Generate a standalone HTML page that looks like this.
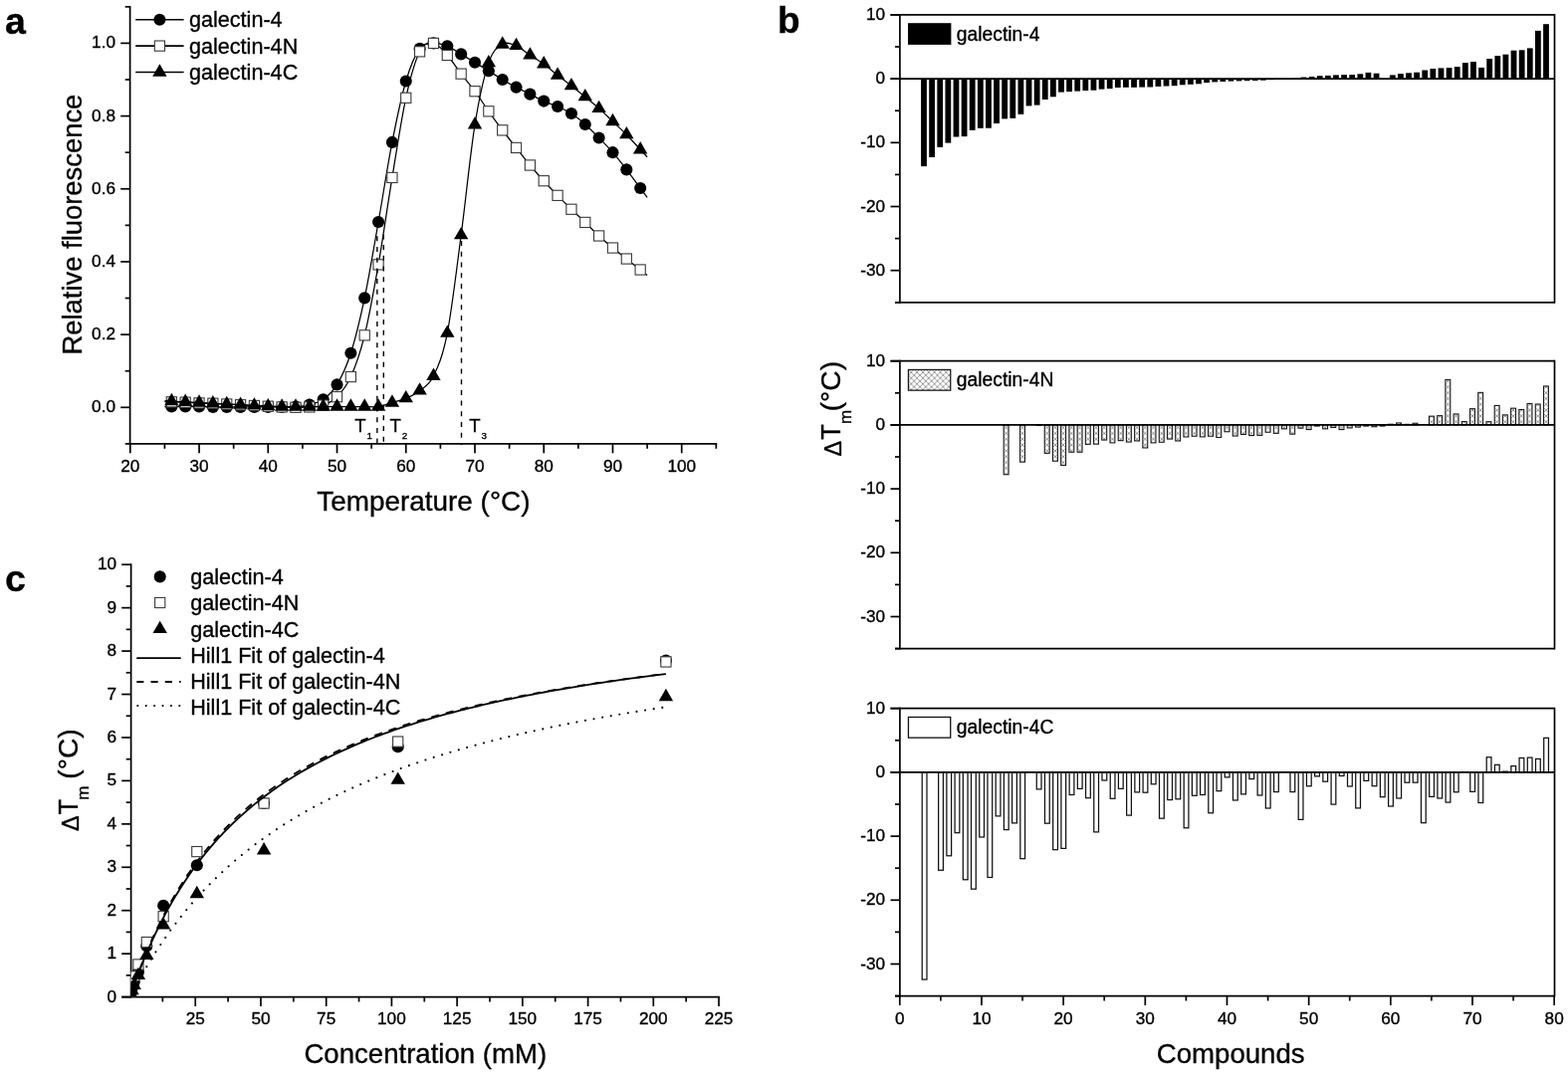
<!DOCTYPE html>
<html lang="en">
<head>
<meta charset="utf-8">
<title>Galectin-4 thermal shift figure</title>
<style>
html,body{margin:0;padding:0;background:#fff;}
body{width:1575px;height:1080px;overflow:hidden;}
svg{display:block;}
text{white-space:pre;}
</style>
</head>
<body>
<svg width="1575" height="1080" viewBox="0 0 1575 1080" font-family='"Liberation Sans", sans-serif' fill="#000">
<style>text{stroke:#000;stroke-width:0.35px;stroke-linejoin:round;}</style>
<defs>
<pattern id="hatch" width="5.83" height="5.83" patternUnits="userSpaceOnUse"><rect width="5.83" height="5.83" fill="#fff"/><path d="M-1,-1 L6.83,6.83 M-1,6.83 L6.83,-1" stroke="#777" stroke-width="0.75" fill="none"/></pattern>
<clipPath id="clipc"><rect x="131.6" y="540" width="620" height="461.6"/></clipPath>
</defs>
<rect width="1575" height="1080" fill="#fff"/>
<g id="panel-a">
<text x="5.10" y="33.80" font-size="37.5" text-anchor="start" font-weight="bold" >a</text>
<line x1="130.60" y1="5.96" x2="130.60" y2="446.74" stroke="#000" stroke-width="1.7" />
<line x1="130.60" y1="445.89" x2="720.19" y2="445.89" stroke="#000" stroke-width="1.7" />
<line x1="125.70" y1="445.89" x2="130.60" y2="445.89" stroke="#000" stroke-width="1.7" />
<line x1="121.20" y1="409.30" x2="130.60" y2="409.30" stroke="#000" stroke-width="1.7" />
<text x="116.00" y="414.30" font-size="17.2" text-anchor="end" font-weight="normal" >0.0</text>
<line x1="125.70" y1="372.71" x2="130.60" y2="372.71" stroke="#000" stroke-width="1.7" />
<line x1="121.20" y1="336.12" x2="130.60" y2="336.12" stroke="#000" stroke-width="1.7" />
<text x="116.00" y="341.12" font-size="17.2" text-anchor="end" font-weight="normal" >0.2</text>
<line x1="125.70" y1="299.53" x2="130.60" y2="299.53" stroke="#000" stroke-width="1.7" />
<line x1="121.20" y1="262.94" x2="130.60" y2="262.94" stroke="#000" stroke-width="1.7" />
<text x="116.00" y="267.94" font-size="17.2" text-anchor="end" font-weight="normal" >0.4</text>
<line x1="125.70" y1="226.35" x2="130.60" y2="226.35" stroke="#000" stroke-width="1.7" />
<line x1="121.20" y1="189.76" x2="130.60" y2="189.76" stroke="#000" stroke-width="1.7" />
<text x="116.00" y="194.76" font-size="17.2" text-anchor="end" font-weight="normal" >0.6</text>
<line x1="125.70" y1="153.17" x2="130.60" y2="153.17" stroke="#000" stroke-width="1.7" />
<line x1="121.20" y1="116.58" x2="130.60" y2="116.58" stroke="#000" stroke-width="1.7" />
<text x="116.00" y="121.58" font-size="17.2" text-anchor="end" font-weight="normal" >0.8</text>
<line x1="125.70" y1="79.99" x2="130.60" y2="79.99" stroke="#000" stroke-width="1.7" />
<line x1="121.20" y1="43.40" x2="130.60" y2="43.40" stroke="#000" stroke-width="1.7" />
<text x="116.00" y="48.40" font-size="17.2" text-anchor="end" font-weight="normal" >1.0</text>
<line x1="125.70" y1="6.81" x2="130.60" y2="6.81" stroke="#000" stroke-width="1.7" />
<line x1="130.80" y1="445.89" x2="130.80" y2="455.29" stroke="#000" stroke-width="1.7" />
<text x="130.80" y="474.10" font-size="17.2" text-anchor="middle" font-weight="normal" >20</text>
<line x1="165.42" y1="445.89" x2="165.42" y2="450.79" stroke="#000" stroke-width="1.7" />
<line x1="200.04" y1="445.89" x2="200.04" y2="455.29" stroke="#000" stroke-width="1.7" />
<text x="200.04" y="474.10" font-size="17.2" text-anchor="middle" font-weight="normal" >30</text>
<line x1="234.66" y1="445.89" x2="234.66" y2="450.79" stroke="#000" stroke-width="1.7" />
<line x1="269.28" y1="445.89" x2="269.28" y2="455.29" stroke="#000" stroke-width="1.7" />
<text x="269.28" y="474.10" font-size="17.2" text-anchor="middle" font-weight="normal" >40</text>
<line x1="303.90" y1="445.89" x2="303.90" y2="450.79" stroke="#000" stroke-width="1.7" />
<line x1="338.52" y1="445.89" x2="338.52" y2="455.29" stroke="#000" stroke-width="1.7" />
<text x="338.52" y="474.10" font-size="17.2" text-anchor="middle" font-weight="normal" >50</text>
<line x1="373.14" y1="445.89" x2="373.14" y2="450.79" stroke="#000" stroke-width="1.7" />
<line x1="407.76" y1="445.89" x2="407.76" y2="455.29" stroke="#000" stroke-width="1.7" />
<text x="407.76" y="474.10" font-size="17.2" text-anchor="middle" font-weight="normal" >60</text>
<line x1="442.38" y1="445.89" x2="442.38" y2="450.79" stroke="#000" stroke-width="1.7" />
<line x1="477.00" y1="445.89" x2="477.00" y2="455.29" stroke="#000" stroke-width="1.7" />
<text x="477.00" y="474.10" font-size="17.2" text-anchor="middle" font-weight="normal" >70</text>
<line x1="511.62" y1="445.89" x2="511.62" y2="450.79" stroke="#000" stroke-width="1.7" />
<line x1="546.24" y1="445.89" x2="546.24" y2="455.29" stroke="#000" stroke-width="1.7" />
<text x="546.24" y="474.10" font-size="17.2" text-anchor="middle" font-weight="normal" >80</text>
<line x1="580.86" y1="445.89" x2="580.86" y2="450.79" stroke="#000" stroke-width="1.7" />
<line x1="615.48" y1="445.89" x2="615.48" y2="455.29" stroke="#000" stroke-width="1.7" />
<text x="615.48" y="474.10" font-size="17.2" text-anchor="middle" font-weight="normal" >90</text>
<line x1="650.10" y1="445.89" x2="650.10" y2="450.79" stroke="#000" stroke-width="1.7" />
<line x1="684.72" y1="445.89" x2="684.72" y2="455.29" stroke="#000" stroke-width="1.7" />
<text x="684.72" y="474.10" font-size="17.2" text-anchor="middle" font-weight="normal" >100</text>
<line x1="719.34" y1="445.89" x2="719.34" y2="450.79" stroke="#000" stroke-width="1.7" />
<text x="425.40" y="512.80" font-size="27.900000000000002" text-anchor="middle" font-weight="normal" >Temperature (°C)</text>
<text transform="translate(82.0,225.6) rotate(-90)" font-size="27.400000000000002" text-anchor="middle">Relative fluorescence</text>
<path d="M165.42,408.57 C166.57,408.57 168.88,408.57 172.34,408.57 C175.81,408.57 181.58,408.57 186.19,408.57 C190.81,408.57 195.42,408.51 200.04,408.57 C204.66,408.63 209.27,408.87 213.89,408.93 C218.50,409.00 223.12,408.93 227.74,408.93 C232.35,408.93 236.97,408.93 241.58,408.93 C246.20,408.93 250.82,408.93 255.43,408.93 C260.05,408.93 264.66,408.93 269.28,408.93 C273.90,408.93 278.51,409.00 283.13,408.93 C287.74,408.87 292.36,408.97 296.98,408.57 C301.59,408.17 306.21,407.74 310.82,406.52 C315.44,405.30 320.06,404.60 324.67,401.25 C329.29,397.90 333.90,394.14 338.52,386.39 C343.14,378.65 347.75,369.29 352.37,354.78 C356.98,340.27 361.60,321.30 366.22,299.35 C370.83,277.39 375.45,249.13 380.06,223.06 C384.68,196.99 389.30,166.53 393.91,142.92 C398.53,119.32 403.14,97.13 407.76,81.45 C412.38,65.78 416.99,55.23 421.61,48.89 C426.22,42.55 430.84,43.83 435.46,43.40 C440.07,42.97 444.69,44.50 449.30,46.33 C453.92,48.16 458.54,51.63 463.15,54.38 C467.77,57.12 472.38,59.99 477.00,62.79 C481.62,65.60 486.23,68.34 490.85,71.21 C495.46,74.07 500.08,77.25 504.70,79.99 C509.31,82.73 513.93,85.23 518.54,87.67 C523.16,90.11 527.78,92.31 532.39,94.63 C537.01,96.94 541.62,99.50 546.24,101.58 C550.86,103.65 555.47,104.99 560.09,107.07 C564.70,109.14 569.32,111.03 573.94,114.02 C578.55,117.01 583.17,120.91 587.78,125.00 C592.40,129.08 597.02,133.84 601.63,138.53 C606.25,143.23 610.86,147.86 615.48,153.17 C620.10,158.48 624.71,164.39 629.33,170.37 C633.94,176.34 639.71,184.36 643.18,189.03 C646.64,193.69 648.95,196.80 650.10,198.36" fill="none" stroke="#000" stroke-width="1.25"/>
<circle cx="172.34" cy="408.57" r="6.05" fill="#000"/>
<circle cx="186.19" cy="408.57" r="6.05" fill="#000"/>
<circle cx="200.04" cy="408.57" r="6.05" fill="#000"/>
<circle cx="213.89" cy="408.93" r="6.05" fill="#000"/>
<circle cx="227.74" cy="408.93" r="6.05" fill="#000"/>
<circle cx="241.58" cy="408.93" r="6.05" fill="#000"/>
<circle cx="255.43" cy="408.93" r="6.05" fill="#000"/>
<circle cx="269.28" cy="408.93" r="6.05" fill="#000"/>
<circle cx="283.13" cy="408.93" r="6.05" fill="#000"/>
<circle cx="296.98" cy="408.57" r="6.05" fill="#000"/>
<circle cx="310.82" cy="406.52" r="6.05" fill="#000"/>
<circle cx="324.67" cy="401.25" r="6.05" fill="#000"/>
<circle cx="338.52" cy="386.39" r="6.05" fill="#000"/>
<circle cx="352.37" cy="354.78" r="6.05" fill="#000"/>
<circle cx="366.22" cy="299.35" r="6.05" fill="#000"/>
<circle cx="380.06" cy="223.06" r="6.05" fill="#000"/>
<circle cx="393.91" cy="142.92" r="6.05" fill="#000"/>
<circle cx="407.76" cy="81.45" r="6.05" fill="#000"/>
<circle cx="421.61" cy="48.89" r="6.05" fill="#000"/>
<circle cx="435.46" cy="43.40" r="6.05" fill="#000"/>
<circle cx="449.30" cy="46.33" r="6.05" fill="#000"/>
<circle cx="463.15" cy="54.38" r="6.05" fill="#000"/>
<circle cx="477.00" cy="62.79" r="6.05" fill="#000"/>
<circle cx="490.85" cy="71.21" r="6.05" fill="#000"/>
<circle cx="504.70" cy="79.99" r="6.05" fill="#000"/>
<circle cx="518.54" cy="87.67" r="6.05" fill="#000"/>
<circle cx="532.39" cy="94.63" r="6.05" fill="#000"/>
<circle cx="546.24" cy="101.58" r="6.05" fill="#000"/>
<circle cx="560.09" cy="107.07" r="6.05" fill="#000"/>
<circle cx="573.94" cy="114.02" r="6.05" fill="#000"/>
<circle cx="587.78" cy="125.00" r="6.05" fill="#000"/>
<circle cx="601.63" cy="138.53" r="6.05" fill="#000"/>
<circle cx="615.48" cy="153.17" r="6.05" fill="#000"/>
<circle cx="629.33" cy="170.37" r="6.05" fill="#000"/>
<circle cx="643.18" cy="189.03" r="6.05" fill="#000"/>
<path d="M165.42,403.63 C166.57,403.66 168.88,403.72 172.34,403.81 C175.81,403.90 181.58,403.99 186.19,404.18 C190.81,404.36 195.42,404.73 200.04,404.91 C204.66,405.09 209.27,405.09 213.89,405.28 C218.50,405.46 223.12,405.76 227.74,406.01 C232.35,406.25 236.97,406.49 241.58,406.74 C246.20,406.98 250.82,407.23 255.43,407.47 C260.05,407.71 264.66,407.96 269.28,408.20 C273.90,408.45 278.51,408.75 283.13,408.93 C287.74,409.12 292.36,409.30 296.98,409.30 C301.59,409.30 306.21,409.30 310.82,408.93 C315.44,408.57 320.06,408.81 324.67,407.10 C329.29,405.40 333.90,403.45 338.52,398.69 C343.14,393.93 347.75,388.87 352.37,378.56 C356.98,368.26 361.60,355.63 366.22,336.85 C370.83,318.07 375.45,292.27 380.06,265.87 C384.68,239.46 389.30,206.35 393.91,178.42 C398.53,150.49 403.14,119.39 407.76,98.29 C412.38,77.18 416.99,60.96 421.61,51.82 C426.22,42.67 430.84,42.79 435.46,43.40 C440.07,44.01 444.69,50.35 449.30,55.47 C453.92,60.60 458.54,68.10 463.15,74.14 C467.77,80.17 472.38,85.42 477.00,91.70 C481.62,97.98 486.23,105.30 490.85,111.82 C495.46,118.35 500.08,124.75 504.70,130.85 C509.31,136.95 513.93,142.56 518.54,148.41 C523.16,154.27 527.78,160.43 532.39,165.98 C537.01,171.53 541.62,176.65 546.24,181.71 C550.86,186.77 555.47,191.59 560.09,196.35 C564.70,201.10 569.32,205.74 573.94,210.25 C578.55,214.76 583.17,218.97 587.78,223.42 C592.40,227.87 597.02,232.69 601.63,236.96 C606.25,241.23 610.86,245.19 615.48,249.04 C620.10,252.88 624.71,256.35 629.33,260.01 C633.94,263.67 639.71,268.25 643.18,270.99 C646.64,273.73 648.95,275.56 650.10,276.48" fill="none" stroke="#000" stroke-width="1.25"/>
<rect x="167.24" y="398.71" width="10.2" height="10.2" fill="#fff" stroke="#3a3a3a" stroke-width="1.1"/>
<rect x="181.09" y="399.08" width="10.2" height="10.2" fill="#fff" stroke="#3a3a3a" stroke-width="1.1"/>
<rect x="194.94" y="399.81" width="10.2" height="10.2" fill="#fff" stroke="#3a3a3a" stroke-width="1.1"/>
<rect x="208.79" y="400.18" width="10.2" height="10.2" fill="#fff" stroke="#3a3a3a" stroke-width="1.1"/>
<rect x="222.64" y="400.91" width="10.2" height="10.2" fill="#fff" stroke="#3a3a3a" stroke-width="1.1"/>
<rect x="236.48" y="401.64" width="10.2" height="10.2" fill="#fff" stroke="#3a3a3a" stroke-width="1.1"/>
<rect x="250.33" y="402.37" width="10.2" height="10.2" fill="#fff" stroke="#3a3a3a" stroke-width="1.1"/>
<rect x="264.18" y="403.10" width="10.2" height="10.2" fill="#fff" stroke="#3a3a3a" stroke-width="1.1"/>
<rect x="278.03" y="403.83" width="10.2" height="10.2" fill="#fff" stroke="#3a3a3a" stroke-width="1.1"/>
<rect x="291.88" y="404.20" width="10.2" height="10.2" fill="#fff" stroke="#3a3a3a" stroke-width="1.1"/>
<rect x="305.72" y="403.83" width="10.2" height="10.2" fill="#fff" stroke="#3a3a3a" stroke-width="1.1"/>
<rect x="319.57" y="402.00" width="10.2" height="10.2" fill="#fff" stroke="#3a3a3a" stroke-width="1.1"/>
<rect x="333.42" y="393.59" width="10.2" height="10.2" fill="#fff" stroke="#3a3a3a" stroke-width="1.1"/>
<rect x="347.27" y="373.46" width="10.2" height="10.2" fill="#fff" stroke="#3a3a3a" stroke-width="1.1"/>
<rect x="361.12" y="331.75" width="10.2" height="10.2" fill="#fff" stroke="#3a3a3a" stroke-width="1.1"/>
<rect x="374.96" y="260.77" width="10.2" height="10.2" fill="#fff" stroke="#3a3a3a" stroke-width="1.1"/>
<rect x="388.81" y="173.32" width="10.2" height="10.2" fill="#fff" stroke="#3a3a3a" stroke-width="1.1"/>
<rect x="402.66" y="93.19" width="10.2" height="10.2" fill="#fff" stroke="#3a3a3a" stroke-width="1.1"/>
<rect x="416.51" y="46.72" width="10.2" height="10.2" fill="#fff" stroke="#3a3a3a" stroke-width="1.1"/>
<rect x="430.36" y="38.30" width="10.2" height="10.2" fill="#fff" stroke="#3a3a3a" stroke-width="1.1"/>
<rect x="444.20" y="50.37" width="10.2" height="10.2" fill="#fff" stroke="#3a3a3a" stroke-width="1.1"/>
<rect x="458.05" y="69.04" width="10.2" height="10.2" fill="#fff" stroke="#3a3a3a" stroke-width="1.1"/>
<rect x="471.90" y="86.60" width="10.2" height="10.2" fill="#fff" stroke="#3a3a3a" stroke-width="1.1"/>
<rect x="485.75" y="106.72" width="10.2" height="10.2" fill="#fff" stroke="#3a3a3a" stroke-width="1.1"/>
<rect x="499.60" y="125.75" width="10.2" height="10.2" fill="#fff" stroke="#3a3a3a" stroke-width="1.1"/>
<rect x="513.44" y="143.31" width="10.2" height="10.2" fill="#fff" stroke="#3a3a3a" stroke-width="1.1"/>
<rect x="527.29" y="160.88" width="10.2" height="10.2" fill="#fff" stroke="#3a3a3a" stroke-width="1.1"/>
<rect x="541.14" y="176.61" width="10.2" height="10.2" fill="#fff" stroke="#3a3a3a" stroke-width="1.1"/>
<rect x="554.99" y="191.25" width="10.2" height="10.2" fill="#fff" stroke="#3a3a3a" stroke-width="1.1"/>
<rect x="568.84" y="205.15" width="10.2" height="10.2" fill="#fff" stroke="#3a3a3a" stroke-width="1.1"/>
<rect x="582.68" y="218.32" width="10.2" height="10.2" fill="#fff" stroke="#3a3a3a" stroke-width="1.1"/>
<rect x="596.53" y="231.86" width="10.2" height="10.2" fill="#fff" stroke="#3a3a3a" stroke-width="1.1"/>
<rect x="610.38" y="243.94" width="10.2" height="10.2" fill="#fff" stroke="#3a3a3a" stroke-width="1.1"/>
<rect x="624.23" y="254.91" width="10.2" height="10.2" fill="#fff" stroke="#3a3a3a" stroke-width="1.1"/>
<rect x="638.08" y="265.89" width="10.2" height="10.2" fill="#fff" stroke="#3a3a3a" stroke-width="1.1"/>
<path d="M165.42,402.71 C166.57,402.77 168.88,402.90 172.34,403.08 C175.81,403.26 181.58,403.57 186.19,403.81 C190.81,404.06 195.42,404.30 200.04,404.54 C204.66,404.79 209.27,405.03 213.89,405.28 C218.50,405.52 223.12,405.76 227.74,406.01 C232.35,406.25 236.97,406.49 241.58,406.74 C246.20,406.98 250.82,407.23 255.43,407.47 C260.05,407.71 264.66,408.02 269.28,408.20 C273.90,408.39 278.51,408.51 283.13,408.57 C287.74,408.63 292.36,408.57 296.98,408.57 C301.59,408.57 306.21,408.57 310.82,408.57 C315.44,408.57 320.06,408.57 324.67,408.57 C329.29,408.57 333.90,408.57 338.52,408.57 C343.14,408.57 347.75,408.57 352.37,408.57 C356.98,408.57 361.60,408.57 366.22,408.57 C370.83,408.57 375.45,409.24 380.06,408.57 C384.68,407.90 389.30,405.95 393.91,404.54 C398.53,403.14 403.14,402.16 407.76,400.15 C412.38,398.14 416.99,396.19 421.61,392.47 C426.22,388.75 430.84,387.47 435.46,377.83 C440.07,368.20 444.69,358.26 449.30,334.66 C453.92,311.06 458.54,271.11 463.15,236.23 C467.77,201.35 472.38,154.21 477.00,125.36 C481.62,96.52 486.23,76.64 490.85,63.16 C495.46,49.68 500.08,47.36 504.70,44.50 C509.31,41.63 513.93,44.13 518.54,45.96 C523.16,47.79 527.78,52.43 532.39,55.47 C537.01,58.52 541.62,60.90 546.24,64.26 C550.86,67.61 555.47,71.94 560.09,75.60 C564.70,79.26 569.32,82.61 573.94,86.21 C578.55,89.81 583.17,93.41 587.78,97.19 C592.40,100.97 597.02,104.75 601.63,108.90 C606.25,113.04 610.86,117.68 615.48,122.07 C620.10,126.46 624.71,130.55 629.33,135.24 C633.94,139.94 639.71,146.49 643.18,150.24 C646.64,153.99 648.95,156.49 650.10,157.74" fill="none" stroke="#000" stroke-width="1.25"/>
<polygon points="172.34,394.81 165.14,407.21 179.54,407.21" fill="#000"/>
<polygon points="186.19,395.54 178.99,407.94 193.39,407.94" fill="#000"/>
<polygon points="200.04,396.28 192.84,408.68 207.24,408.68" fill="#000"/>
<polygon points="213.89,397.01 206.69,409.41 221.09,409.41" fill="#000"/>
<polygon points="227.74,397.74 220.54,410.14 234.94,410.14" fill="#000"/>
<polygon points="241.58,398.47 234.38,410.87 248.78,410.87" fill="#000"/>
<polygon points="255.43,399.20 248.23,411.60 262.63,411.60" fill="#000"/>
<polygon points="269.28,399.94 262.08,412.34 276.48,412.34" fill="#000"/>
<polygon points="283.13,400.30 275.93,412.70 290.33,412.70" fill="#000"/>
<polygon points="296.98,400.30 289.78,412.70 304.18,412.70" fill="#000"/>
<polygon points="310.82,400.30 303.62,412.70 318.02,412.70" fill="#000"/>
<polygon points="324.67,400.30 317.47,412.70 331.87,412.70" fill="#000"/>
<polygon points="338.52,400.30 331.32,412.70 345.72,412.70" fill="#000"/>
<polygon points="352.37,400.30 345.17,412.70 359.57,412.70" fill="#000"/>
<polygon points="366.22,400.30 359.02,412.70 373.42,412.70" fill="#000"/>
<polygon points="380.06,400.30 372.86,412.70 387.26,412.70" fill="#000"/>
<polygon points="393.91,396.28 386.71,408.68 401.11,408.68" fill="#000"/>
<polygon points="407.76,391.89 400.56,404.29 414.96,404.29" fill="#000"/>
<polygon points="421.61,384.20 414.41,396.60 428.81,396.60" fill="#000"/>
<polygon points="435.46,369.57 428.26,381.97 442.66,381.97" fill="#000"/>
<polygon points="449.30,326.39 442.10,338.79 456.50,338.79" fill="#000"/>
<polygon points="463.15,227.96 455.95,240.36 470.35,240.36" fill="#000"/>
<polygon points="477.00,117.09 469.80,129.49 484.20,129.49" fill="#000"/>
<polygon points="490.85,54.89 483.65,67.29 498.05,67.29" fill="#000"/>
<polygon points="504.70,36.23 497.50,48.63 511.90,48.63" fill="#000"/>
<polygon points="518.54,37.69 511.34,50.09 525.74,50.09" fill="#000"/>
<polygon points="532.39,47.21 525.19,59.61 539.59,59.61" fill="#000"/>
<polygon points="546.24,55.99 539.04,68.39 553.44,68.39" fill="#000"/>
<polygon points="560.09,67.33 552.89,79.73 567.29,79.73" fill="#000"/>
<polygon points="573.94,77.94 566.74,90.34 581.14,90.34" fill="#000"/>
<polygon points="587.78,88.92 580.58,101.32 594.98,101.32" fill="#000"/>
<polygon points="601.63,100.63 594.43,113.03 608.83,113.03" fill="#000"/>
<polygon points="615.48,113.80 608.28,126.20 622.68,126.20" fill="#000"/>
<polygon points="629.33,126.97 622.13,139.37 636.53,139.37" fill="#000"/>
<polygon points="643.18,141.98 635.98,154.38 650.38,154.38" fill="#000"/>
<line x1="378.85" y1="237.3" x2="378.85" y2="447.09" stroke="#000" stroke-width="1.4" stroke-dasharray="5 5.7"/>
<line x1="385.30" y1="235.4" x2="385.30" y2="447.09" stroke="#000" stroke-width="1.4" stroke-dasharray="5 5.7"/>
<line x1="463.50" y1="242.1" x2="463.50" y2="447.09" stroke="#000" stroke-width="1.4" stroke-dasharray="5 5.7"/>
<text x="356.20" y="433.90" font-size="18.6">T<tspan dx="0.9" dy="7.5" font-size="9.8">1</tspan></text>
<text x="391.60" y="433.90" font-size="18.6">T<tspan dx="0.9" dy="7.5" font-size="9.8">2</tspan></text>
<text x="471.30" y="433.90" font-size="18.6">T<tspan dx="0.9" dy="7.5" font-size="9.8">3</tspan></text>
<line x1="136.20" y1="19.70" x2="184.60" y2="19.70" stroke="#000" stroke-width="1.6" />
<circle cx="160.40" cy="19.70" r="6.05" fill="#000"/>
<text x="190.00" y="27.10" font-size="21.6" text-anchor="start" font-weight="normal" >galectin-4</text>
<line x1="136.20" y1="46.10" x2="184.60" y2="46.10" stroke="#000" stroke-width="1.6" />
<rect x="155.30" y="41.00" width="10.2" height="10.2" fill="#fff" stroke="#3a3a3a" stroke-width="1.1"/>
<text x="190.00" y="53.50" font-size="21.6" text-anchor="start" font-weight="normal" >galectin-4N</text>
<line x1="136.20" y1="72.50" x2="184.60" y2="72.50" stroke="#000" stroke-width="1.6" />
<polygon points="160.40,64.23 153.20,76.63 167.60,76.63" fill="#000"/>
<text x="190.00" y="79.90" font-size="21.6" text-anchor="start" font-weight="normal" >galectin-4C</text>
</g>
<g id="panel-c">
<text x="5.10" y="593.50" font-size="37.5" text-anchor="start" font-weight="bold" >c</text>
<line x1="131.60" y1="566.35" x2="131.60" y2="1002.45" stroke="#000" stroke-width="1.7" />
<line x1="122.20" y1="1001.60" x2="722.88" y2="1001.60" stroke="#000" stroke-width="1.7" />
<line x1="122.20" y1="1001.60" x2="131.60" y2="1001.60" stroke="#000" stroke-width="1.7" />
<text x="117.00" y="1006.60" font-size="17.2" text-anchor="end" font-weight="normal" >0</text>
<line x1="126.70" y1="979.88" x2="131.60" y2="979.88" stroke="#000" stroke-width="1.7" />
<line x1="122.20" y1="958.16" x2="131.60" y2="958.16" stroke="#000" stroke-width="1.7" />
<text x="117.00" y="963.16" font-size="17.2" text-anchor="end" font-weight="normal" >1</text>
<line x1="126.70" y1="936.44" x2="131.60" y2="936.44" stroke="#000" stroke-width="1.7" />
<line x1="122.20" y1="914.72" x2="131.60" y2="914.72" stroke="#000" stroke-width="1.7" />
<text x="117.00" y="919.72" font-size="17.2" text-anchor="end" font-weight="normal" >2</text>
<line x1="126.70" y1="893.00" x2="131.60" y2="893.00" stroke="#000" stroke-width="1.7" />
<line x1="122.20" y1="871.28" x2="131.60" y2="871.28" stroke="#000" stroke-width="1.7" />
<text x="117.00" y="876.28" font-size="17.2" text-anchor="end" font-weight="normal" >3</text>
<line x1="126.70" y1="849.56" x2="131.60" y2="849.56" stroke="#000" stroke-width="1.7" />
<line x1="122.20" y1="827.84" x2="131.60" y2="827.84" stroke="#000" stroke-width="1.7" />
<text x="117.00" y="832.84" font-size="17.2" text-anchor="end" font-weight="normal" >4</text>
<line x1="126.70" y1="806.12" x2="131.60" y2="806.12" stroke="#000" stroke-width="1.7" />
<line x1="122.20" y1="784.40" x2="131.60" y2="784.40" stroke="#000" stroke-width="1.7" />
<text x="117.00" y="789.40" font-size="17.2" text-anchor="end" font-weight="normal" >5</text>
<line x1="126.70" y1="762.68" x2="131.60" y2="762.68" stroke="#000" stroke-width="1.7" />
<line x1="122.20" y1="740.96" x2="131.60" y2="740.96" stroke="#000" stroke-width="1.7" />
<text x="117.00" y="745.96" font-size="17.2" text-anchor="end" font-weight="normal" >6</text>
<line x1="126.70" y1="719.24" x2="131.60" y2="719.24" stroke="#000" stroke-width="1.7" />
<line x1="122.20" y1="697.52" x2="131.60" y2="697.52" stroke="#000" stroke-width="1.7" />
<text x="117.00" y="702.52" font-size="17.2" text-anchor="end" font-weight="normal" >7</text>
<line x1="126.70" y1="675.80" x2="131.60" y2="675.80" stroke="#000" stroke-width="1.7" />
<line x1="122.20" y1="654.08" x2="131.60" y2="654.08" stroke="#000" stroke-width="1.7" />
<text x="117.00" y="659.08" font-size="17.2" text-anchor="end" font-weight="normal" >8</text>
<line x1="126.70" y1="632.36" x2="131.60" y2="632.36" stroke="#000" stroke-width="1.7" />
<line x1="122.20" y1="610.64" x2="131.60" y2="610.64" stroke="#000" stroke-width="1.7" />
<text x="117.00" y="615.64" font-size="17.2" text-anchor="end" font-weight="normal" >9</text>
<line x1="126.70" y1="588.92" x2="131.60" y2="588.92" stroke="#000" stroke-width="1.7" />
<line x1="122.20" y1="567.20" x2="131.60" y2="567.20" stroke="#000" stroke-width="1.7" />
<text x="117.00" y="572.20" font-size="17.2" text-anchor="end" font-weight="normal" >10</text>
<line x1="163.36" y1="1001.60" x2="163.36" y2="1006.50" stroke="#000" stroke-width="1.7" />
<line x1="196.22" y1="1001.60" x2="196.22" y2="1011.00" stroke="#000" stroke-width="1.7" />
<text x="196.22" y="1029.40" font-size="17.2" text-anchor="middle" font-weight="normal" >25</text>
<line x1="229.09" y1="1001.60" x2="229.09" y2="1006.50" stroke="#000" stroke-width="1.7" />
<line x1="261.95" y1="1001.60" x2="261.95" y2="1011.00" stroke="#000" stroke-width="1.7" />
<text x="261.95" y="1029.40" font-size="17.2" text-anchor="middle" font-weight="normal" >50</text>
<line x1="294.81" y1="1001.60" x2="294.81" y2="1006.50" stroke="#000" stroke-width="1.7" />
<line x1="327.68" y1="1001.60" x2="327.68" y2="1011.00" stroke="#000" stroke-width="1.7" />
<text x="327.68" y="1029.40" font-size="17.2" text-anchor="middle" font-weight="normal" >75</text>
<line x1="360.54" y1="1001.60" x2="360.54" y2="1006.50" stroke="#000" stroke-width="1.7" />
<line x1="393.40" y1="1001.60" x2="393.40" y2="1011.00" stroke="#000" stroke-width="1.7" />
<text x="393.40" y="1029.40" font-size="17.2" text-anchor="middle" font-weight="normal" >100</text>
<line x1="426.26" y1="1001.60" x2="426.26" y2="1006.50" stroke="#000" stroke-width="1.7" />
<line x1="459.12" y1="1001.60" x2="459.12" y2="1011.00" stroke="#000" stroke-width="1.7" />
<text x="459.12" y="1029.40" font-size="17.2" text-anchor="middle" font-weight="normal" >125</text>
<line x1="491.99" y1="1001.60" x2="491.99" y2="1006.50" stroke="#000" stroke-width="1.7" />
<line x1="524.85" y1="1001.60" x2="524.85" y2="1011.00" stroke="#000" stroke-width="1.7" />
<text x="524.85" y="1029.40" font-size="17.2" text-anchor="middle" font-weight="normal" >150</text>
<line x1="557.71" y1="1001.60" x2="557.71" y2="1006.50" stroke="#000" stroke-width="1.7" />
<line x1="590.58" y1="1001.60" x2="590.58" y2="1011.00" stroke="#000" stroke-width="1.7" />
<text x="590.58" y="1029.40" font-size="17.2" text-anchor="middle" font-weight="normal" >175</text>
<line x1="623.44" y1="1001.60" x2="623.44" y2="1006.50" stroke="#000" stroke-width="1.7" />
<line x1="656.30" y1="1001.60" x2="656.30" y2="1011.00" stroke="#000" stroke-width="1.7" />
<text x="656.30" y="1029.40" font-size="17.2" text-anchor="middle" font-weight="normal" >200</text>
<line x1="689.16" y1="1001.60" x2="689.16" y2="1006.50" stroke="#000" stroke-width="1.7" />
<line x1="722.02" y1="1001.60" x2="722.02" y2="1011.00" stroke="#000" stroke-width="1.7" />
<text x="722.02" y="1029.40" font-size="17.2" text-anchor="middle" font-weight="normal" >225</text>
<text x="427.30" y="1068.10" font-size="27.6" text-anchor="middle" font-weight="normal" >Concentration (mM)</text>
<g transform="translate(78.5,835.0) rotate(-90)"><text x="0" y="0.4" font-size="23.4">Δ</text><text transform="translate(16.6,-0.5) scale(0.93,1)" font-size="27.6">T</text><text x="31.2" y="10.6" font-size="17">m</text><text x="52.3" y="-0.9" font-size="28.2">(°C)</text></g>
<g clip-path="url(#clipc)">
<circle cx="131.03" cy="1001.60" r="6.05" fill="#000"/>
<circle cx="131.55" cy="997.27" r="6.05" fill="#000"/>
<circle cx="132.60" cy="992.93" r="6.05" fill="#000"/>
<circle cx="134.71" cy="986.43" r="6.05" fill="#000"/>
<circle cx="138.91" cy="976.47" r="6.05" fill="#000"/>
<circle cx="147.33" cy="950.47" r="6.05" fill="#000"/>
<circle cx="164.15" cy="909.74" r="6.05" fill="#000"/>
<circle cx="197.80" cy="869.23" r="6.05" fill="#000"/>
<circle cx="265.10" cy="807.05" r="6.05" fill="#000"/>
<circle cx="399.71" cy="750.29" r="6.05" fill="#000"/>
<circle cx="668.92" cy="663.63" r="6.05" fill="#000"/>
<rect x="125.93" y="994.33" width="10.2" height="10.2" fill="#fff" stroke="#3a3a3a" stroke-width="1.1"/>
<rect x="126.45" y="990.00" width="10.2" height="10.2" fill="#fff" stroke="#3a3a3a" stroke-width="1.1"/>
<rect x="127.50" y="983.50" width="10.2" height="10.2" fill="#fff" stroke="#3a3a3a" stroke-width="1.1"/>
<rect x="129.61" y="975.79" width="10.2" height="10.2" fill="#fff" stroke="#3a3a3a" stroke-width="1.1"/>
<rect x="133.81" y="963.87" width="10.2" height="10.2" fill="#fff" stroke="#3a3a3a" stroke-width="1.1"/>
<rect x="142.23" y="941.47" width="10.2" height="10.2" fill="#fff" stroke="#3a3a3a" stroke-width="1.1"/>
<rect x="159.05" y="915.65" width="10.2" height="10.2" fill="#fff" stroke="#3a3a3a" stroke-width="1.1"/>
<rect x="192.70" y="850.48" width="10.2" height="10.2" fill="#fff" stroke="#3a3a3a" stroke-width="1.1"/>
<rect x="260.00" y="801.95" width="10.2" height="10.2" fill="#fff" stroke="#3a3a3a" stroke-width="1.1"/>
<rect x="394.61" y="739.99" width="10.2" height="10.2" fill="#fff" stroke="#3a3a3a" stroke-width="1.1"/>
<rect x="663.82" y="659.83" width="10.2" height="10.2" fill="#fff" stroke="#3a3a3a" stroke-width="1.1"/>
<polygon points="131.03,993.33 123.83,1005.73 138.23,1005.73" fill="#000"/>
<polygon points="131.55,991.17 124.35,1003.57 138.75,1003.57" fill="#000"/>
<polygon points="132.60,986.83 125.40,999.23 139.80,999.23" fill="#000"/>
<polygon points="134.71,981.63 127.51,994.03 141.91,994.03" fill="#000"/>
<polygon points="138.91,971.67 131.71,984.07 146.11,984.07" fill="#000"/>
<polygon points="147.33,951.65 140.13,964.05 154.53,964.05" fill="#000"/>
<polygon points="164.15,921.19 156.95,933.59 171.35,933.59" fill="#000"/>
<polygon points="197.80,889.77 190.60,902.17 205.00,902.17" fill="#000"/>
<polygon points="265.10,846.01 257.90,858.41 272.30,858.41" fill="#000"/>
<polygon points="399.71,775.38 392.51,787.78 406.91,787.78" fill="#000"/>
<polygon points="668.92,691.76 661.72,704.16 676.12,704.16" fill="#000"/>
<path d="M130.50,1001.60 L134.99,988.81 L139.47,976.79 L143.96,965.49 L148.45,954.83 L152.93,944.76 L157.42,935.25 L161.91,926.23 L166.39,917.68 L170.88,909.55 L175.37,901.82 L179.86,894.46 L184.34,887.45 L188.83,880.75 L193.32,874.35 L197.80,868.24 L202.29,862.38 L206.78,856.76 L211.26,851.38 L215.75,846.21 L220.24,841.25 L224.72,836.47 L229.21,831.88 L233.70,827.45 L238.18,823.19 L242.67,819.08 L247.16,815.12 L251.64,811.29 L256.13,807.59 L260.62,804.02 L265.10,800.56 L269.59,797.21 L274.08,793.97 L278.57,790.84 L283.05,787.79 L287.54,784.85 L292.03,781.98 L296.51,779.21 L301.00,776.51 L305.49,773.89 L309.97,771.35 L314.46,768.87 L318.95,766.47 L323.43,764.13 L327.92,761.85 L332.41,759.63 L336.89,757.47 L341.38,755.36 L345.87,753.31 L350.35,751.31 L354.84,749.36 L359.33,747.45 L363.81,745.60 L368.30,743.78 L372.79,742.01 L377.28,740.28 L381.76,738.59 L386.25,736.94 L390.74,735.33 L395.22,733.75 L399.71,732.21 L404.20,730.70 L408.68,729.22 L413.17,727.77 L417.66,726.36 L422.14,724.97 L426.63,723.61 L431.12,722.28 L435.60,720.98 L440.09,719.70 L444.58,718.45 L449.06,717.23 L453.55,716.02 L458.04,714.84 L462.53,713.69 L467.01,712.55 L471.50,711.44 L475.99,710.34 L480.47,709.27 L484.96,708.22 L489.45,707.18 L493.93,706.16 L498.42,705.17 L502.91,704.19 L507.39,703.22 L511.88,702.27 L516.37,701.34 L520.85,700.43 L525.34,699.53 L529.83,698.64 L534.31,697.77 L538.80,696.92 L543.29,696.08 L547.77,695.25 L552.26,694.43 L556.75,693.63 L561.24,692.84 L565.72,692.06 L570.21,691.30 L574.70,690.54 L579.18,689.80 L583.67,689.07 L588.16,688.35 L592.64,687.64 L597.13,686.95 L601.62,686.26 L606.10,685.58 L610.59,684.91 L615.08,684.25 L619.56,683.60 L624.05,682.96 L628.54,682.33 L633.02,681.71 L637.51,681.10 L642.00,680.49 L646.49,679.90 L650.97,679.31 L655.46,678.73 L659.95,678.15 L664.43,677.59 L668.92,677.03" fill="none" stroke="#000" stroke-width="1.8"/>
<path d="M130.50,1001.60 L134.99,988.41 L139.47,976.06 L143.96,964.46 L148.45,953.55 L152.93,943.27 L157.42,933.56 L161.91,924.38 L166.39,915.69 L170.88,907.45 L175.37,899.62 L179.86,892.18 L184.34,885.10 L188.83,878.34 L193.32,871.90 L197.80,865.74 L202.29,859.86 L206.78,854.22 L211.26,848.82 L215.75,843.65 L220.24,838.68 L224.72,833.91 L229.21,829.32 L233.70,824.90 L238.18,820.65 L242.67,816.56 L247.16,812.61 L251.64,808.81 L256.13,805.13 L260.62,801.58 L265.10,798.15 L269.59,794.83 L274.08,791.62 L278.57,788.51 L283.05,785.50 L287.54,782.58 L292.03,779.75 L296.51,777.01 L301.00,774.34 L305.49,771.76 L309.97,769.25 L314.46,766.80 L318.95,764.43 L323.43,762.13 L327.92,759.88 L332.41,757.70 L336.89,755.57 L341.38,753.50 L345.87,751.48 L350.35,749.51 L354.84,747.60 L359.33,745.73 L363.81,743.90 L368.30,742.12 L372.79,740.38 L377.28,738.69 L381.76,737.03 L386.25,735.41 L390.74,733.83 L395.22,732.28 L399.71,730.77 L404.20,729.29 L408.68,727.85 L413.17,726.43 L417.66,725.05 L422.14,723.69 L426.63,722.37 L431.12,721.07 L435.60,719.79 L440.09,718.55 L444.58,717.32 L449.06,716.13 L453.55,714.95 L458.04,713.80 L462.53,712.67 L467.01,711.56 L471.50,710.48 L475.99,709.41 L480.47,708.36 L484.96,707.34 L489.45,706.33 L493.93,705.34 L498.42,704.36 L502.91,703.41 L507.39,702.47 L511.88,701.55 L516.37,700.64 L520.85,699.75 L525.34,698.88 L529.83,698.01 L534.31,697.17 L538.80,696.34 L543.29,695.52 L547.77,694.71 L552.26,693.92 L556.75,693.14 L561.24,692.37 L565.72,691.62 L570.21,690.87 L574.70,690.14 L579.18,689.42 L583.67,688.71 L588.16,688.01 L592.64,687.32 L597.13,686.65 L601.62,685.98 L606.10,685.32 L610.59,684.67 L615.08,684.03 L619.56,683.40 L624.05,682.78 L628.54,682.17 L633.02,681.57 L637.51,680.97 L642.00,680.39 L646.49,679.81 L650.97,679.24 L655.46,678.67 L659.95,678.12 L664.43,677.57 L668.92,677.03" fill="none" stroke="#000" stroke-width="1.8" stroke-linecap="round" stroke-dasharray="6.6 8.4"/>
<path d="M130.50,1001.60 L134.99,992.96 L139.47,984.68 L143.96,976.74 L148.45,969.12 L152.93,961.81 L157.42,954.78 L161.91,948.01 L166.39,941.50 L170.88,935.23 L175.37,929.19 L179.86,923.36 L184.34,917.73 L188.83,912.29 L193.32,907.04 L197.80,901.96 L202.29,897.05 L206.78,892.29 L211.26,887.68 L215.75,883.22 L220.24,878.89 L224.72,874.70 L229.21,870.62 L233.70,866.67 L238.18,862.83 L242.67,859.10 L247.16,855.47 L251.64,851.95 L256.13,848.52 L260.62,845.18 L265.10,841.93 L269.59,838.77 L274.08,835.68 L278.57,832.68 L283.05,829.75 L287.54,826.89 L292.03,824.11 L296.51,821.39 L301.00,818.74 L305.49,816.15 L309.97,813.62 L314.46,811.14 L318.95,808.73 L323.43,806.37 L327.92,804.06 L332.41,801.81 L336.89,799.60 L341.38,797.44 L345.87,795.33 L350.35,793.26 L354.84,791.23 L359.33,789.25 L363.81,787.31 L368.30,785.40 L372.79,783.54 L377.28,781.71 L381.76,779.92 L386.25,778.16 L390.74,776.44 L395.22,774.75 L399.71,773.09 L404.20,771.47 L408.68,769.87 L413.17,768.31 L417.66,766.77 L422.14,765.26 L426.63,763.77 L431.12,762.32 L435.60,760.89 L440.09,759.48 L444.58,758.10 L449.06,756.74 L453.55,755.41 L458.04,754.09 L462.53,752.80 L467.01,751.53 L471.50,750.29 L475.99,749.06 L480.47,747.85 L484.96,746.66 L489.45,745.49 L493.93,744.34 L498.42,743.21 L502.91,742.09 L507.39,740.99 L511.88,739.91 L516.37,738.85 L520.85,737.80 L525.34,736.77 L529.83,735.75 L534.31,734.75 L538.80,733.76 L543.29,732.79 L547.77,731.83 L552.26,730.88 L556.75,729.95 L561.24,729.03 L565.72,728.12 L570.21,727.23 L574.70,726.35 L579.18,725.48 L583.67,724.62 L588.16,723.78 L592.64,722.94 L597.13,722.12 L601.62,721.31 L606.10,720.51 L610.59,719.72 L615.08,718.93 L619.56,718.16 L624.05,717.40 L628.54,716.65 L633.02,715.91 L637.51,715.18 L642.00,714.46 L646.49,713.74 L650.97,713.04 L655.46,712.34 L659.95,711.65 L664.43,710.98 L668.92,710.30" fill="none" stroke="#000" stroke-width="2.1" stroke-linecap="round" stroke-dasharray="0.01 8.7"/>
</g>
<circle cx="160.70" cy="579.40" r="6.05" fill="#000"/>
<rect x="155.60" y="600.40" width="10.2" height="10.2" fill="#fff" stroke="#3a3a3a" stroke-width="1.1"/>
<polygon points="160.70,623.63 153.50,636.03 167.90,636.03" fill="#000"/>
<line x1="138.00" y1="661.15" x2="181.00" y2="661.15" stroke="#000" stroke-width="1.8" stroke-linecap="round"/>
<line x1="138.00" y1="685.00" x2="181.00" y2="685.00" stroke="#000" stroke-width="1.8" stroke-linecap="round" stroke-dasharray="5.7 8.56"/>
<line x1="138.30" y1="708.97" x2="181.50" y2="708.97" stroke="#000" stroke-width="2.1" stroke-linecap="round" stroke-dasharray="0.01 8.39"/>
<text x="191.20" y="587.30" font-size="21.6" text-anchor="start" font-weight="normal" >galectin-4</text>
<text x="191.20" y="613.46" font-size="21.6" text-anchor="start" font-weight="normal" >galectin-4N</text>
<text x="191.20" y="639.62" font-size="21.6" text-anchor="start" font-weight="normal" >galectin-4C</text>
<text x="191.20" y="665.78" font-size="21.6" text-anchor="start" font-weight="normal" >Hill1 Fit of galectin-4</text>
<text x="191.20" y="691.94" font-size="21.6" text-anchor="start" font-weight="normal" >Hill1 Fit of galectin-4N</text>
<text x="191.20" y="718.10" font-size="21.6" text-anchor="start" font-weight="normal" >Hill1 Fit of galectin-4C</text>
</g>
<g id="panel-b">
<text x="781.00" y="33.10" font-size="37" text-anchor="start" font-weight="bold" >b</text>
<rect x="925.10" y="79.10" width="5.80" height="88.00" fill="#000"/>
<rect x="933.22" y="79.10" width="5.80" height="78.90" fill="#000"/>
<rect x="941.33" y="79.10" width="5.80" height="68.80" fill="#000"/>
<rect x="949.45" y="79.10" width="5.80" height="64.50" fill="#000"/>
<rect x="957.57" y="79.10" width="5.80" height="58.40" fill="#000"/>
<rect x="965.69" y="79.10" width="5.80" height="58.00" fill="#000"/>
<rect x="973.80" y="79.10" width="5.80" height="51.70" fill="#000"/>
<rect x="981.92" y="79.10" width="5.80" height="49.70" fill="#000"/>
<rect x="990.04" y="79.10" width="5.80" height="49.60" fill="#000"/>
<rect x="998.15" y="79.10" width="5.80" height="44.90" fill="#000"/>
<rect x="1006.27" y="79.10" width="5.80" height="40.30" fill="#000"/>
<rect x="1014.39" y="79.10" width="5.80" height="39.70" fill="#000"/>
<rect x="1022.50" y="79.10" width="5.80" height="35.70" fill="#000"/>
<rect x="1030.62" y="79.10" width="5.80" height="27.30" fill="#000"/>
<rect x="1038.74" y="79.10" width="5.80" height="26.50" fill="#000"/>
<rect x="1046.86" y="79.10" width="5.80" height="20.90" fill="#000"/>
<rect x="1054.97" y="79.10" width="5.80" height="18.20" fill="#000"/>
<rect x="1063.09" y="79.10" width="5.80" height="13.50" fill="#000"/>
<rect x="1071.21" y="79.10" width="5.80" height="13.00" fill="#000"/>
<rect x="1079.32" y="79.10" width="5.80" height="12.50" fill="#000"/>
<rect x="1087.44" y="79.10" width="5.80" height="11.90" fill="#000"/>
<rect x="1095.56" y="79.10" width="5.80" height="11.60" fill="#000"/>
<rect x="1103.67" y="79.10" width="5.80" height="10.50" fill="#000"/>
<rect x="1111.79" y="79.10" width="5.80" height="10.00" fill="#000"/>
<rect x="1119.91" y="79.10" width="5.80" height="8.90" fill="#000"/>
<rect x="1128.02" y="79.10" width="5.80" height="8.70" fill="#000"/>
<rect x="1136.14" y="79.10" width="5.80" height="8.70" fill="#000"/>
<rect x="1144.26" y="79.10" width="5.80" height="8.50" fill="#000"/>
<rect x="1152.38" y="79.10" width="5.80" height="8.40" fill="#000"/>
<rect x="1160.49" y="79.10" width="5.80" height="7.80" fill="#000"/>
<rect x="1168.61" y="79.10" width="5.80" height="7.40" fill="#000"/>
<rect x="1176.73" y="79.10" width="5.80" height="7.10" fill="#000"/>
<rect x="1184.84" y="79.10" width="5.80" height="6.20" fill="#000"/>
<rect x="1192.96" y="79.10" width="5.80" height="5.70" fill="#000"/>
<rect x="1201.08" y="79.10" width="5.80" height="5.20" fill="#000"/>
<rect x="1209.19" y="79.10" width="5.80" height="4.00" fill="#000"/>
<rect x="1217.31" y="79.10" width="5.80" height="3.30" fill="#000"/>
<rect x="1225.43" y="79.10" width="5.80" height="2.90" fill="#000"/>
<rect x="1233.55" y="79.10" width="5.80" height="2.50" fill="#000"/>
<rect x="1241.66" y="79.10" width="5.80" height="2.30" fill="#000"/>
<rect x="1249.78" y="79.10" width="5.80" height="2.10" fill="#000"/>
<rect x="1257.90" y="79.10" width="5.80" height="1.90" fill="#000"/>
<rect x="1266.01" y="79.10" width="5.80" height="1.60" fill="#000"/>
<rect x="1274.13" y="79.10" width="5.80" height="1.10" fill="#000"/>
<rect x="1282.25" y="79.10" width="5.80" height="0.50" fill="#000"/>
<rect x="1298.48" y="78.60" width="5.80" height="0.50" fill="#000"/>
<rect x="1306.60" y="77.50" width="5.80" height="1.60" fill="#000"/>
<rect x="1314.72" y="77.00" width="5.80" height="2.10" fill="#000"/>
<rect x="1322.83" y="76.20" width="5.80" height="2.90" fill="#000"/>
<rect x="1330.95" y="75.90" width="5.80" height="3.20" fill="#000"/>
<rect x="1339.07" y="75.40" width="5.80" height="3.70" fill="#000"/>
<rect x="1347.18" y="75.10" width="5.80" height="4.00" fill="#000"/>
<rect x="1355.30" y="75.10" width="5.80" height="4.00" fill="#000"/>
<rect x="1363.42" y="74.30" width="5.80" height="4.80" fill="#000"/>
<rect x="1371.53" y="72.90" width="5.80" height="6.20" fill="#000"/>
<rect x="1379.65" y="73.70" width="5.80" height="5.40" fill="#000"/>
<rect x="1395.89" y="75.40" width="5.80" height="3.70" fill="#000"/>
<rect x="1404.00" y="74.10" width="5.80" height="5.00" fill="#000"/>
<rect x="1412.12" y="73.30" width="5.80" height="5.80" fill="#000"/>
<rect x="1420.24" y="72.70" width="5.80" height="6.40" fill="#000"/>
<rect x="1428.35" y="70.50" width="5.80" height="8.60" fill="#000"/>
<rect x="1436.47" y="69.00" width="5.80" height="10.10" fill="#000"/>
<rect x="1444.59" y="68.40" width="5.80" height="10.70" fill="#000"/>
<rect x="1452.70" y="68.10" width="5.80" height="11.00" fill="#000"/>
<rect x="1460.82" y="67.10" width="5.80" height="12.00" fill="#000"/>
<rect x="1468.94" y="63.10" width="5.80" height="16.00" fill="#000"/>
<rect x="1477.06" y="62.00" width="5.80" height="17.10" fill="#000"/>
<rect x="1485.17" y="67.90" width="5.80" height="11.20" fill="#000"/>
<rect x="1493.29" y="59.00" width="5.80" height="20.10" fill="#000"/>
<rect x="1501.41" y="56.10" width="5.80" height="23.00" fill="#000"/>
<rect x="1509.52" y="54.70" width="5.80" height="24.40" fill="#000"/>
<rect x="1517.64" y="50.70" width="5.80" height="28.40" fill="#000"/>
<rect x="1525.76" y="50.30" width="5.80" height="28.80" fill="#000"/>
<rect x="1533.88" y="48.40" width="5.80" height="30.70" fill="#000"/>
<rect x="1541.99" y="30.90" width="5.80" height="48.20" fill="#000"/>
<rect x="1550.11" y="24.20" width="5.80" height="54.90" fill="#000"/>
<line x1="903.90" y1="14.05" x2="903.90" y2="304.65" stroke="#000" stroke-width="1.7" />
<line x1="1561.50" y1="14.05" x2="1561.50" y2="304.65" stroke="#000" stroke-width="1.7" />
<line x1="894.50" y1="14.90" x2="1561.50" y2="14.90" stroke="#000" stroke-width="1.7" />
<line x1="899.00" y1="303.80" x2="1561.50" y2="303.80" stroke="#000" stroke-width="1.7" />
<line x1="894.50" y1="79.10" x2="1561.50" y2="79.10" stroke="#000" stroke-width="1.7" />
<line x1="899.00" y1="303.80" x2="903.90" y2="303.80" stroke="#000" stroke-width="1.7" />
<line x1="894.50" y1="271.70" x2="903.90" y2="271.70" stroke="#000" stroke-width="1.7" />
<text x="889.10" y="276.70" font-size="17.2" text-anchor="end" font-weight="normal" >-30</text>
<line x1="899.00" y1="239.60" x2="903.90" y2="239.60" stroke="#000" stroke-width="1.7" />
<line x1="894.50" y1="207.50" x2="903.90" y2="207.50" stroke="#000" stroke-width="1.7" />
<text x="889.10" y="212.50" font-size="17.2" text-anchor="end" font-weight="normal" >-20</text>
<line x1="899.00" y1="175.40" x2="903.90" y2="175.40" stroke="#000" stroke-width="1.7" />
<line x1="894.50" y1="143.30" x2="903.90" y2="143.30" stroke="#000" stroke-width="1.7" />
<text x="889.10" y="148.30" font-size="17.2" text-anchor="end" font-weight="normal" >-10</text>
<line x1="899.00" y1="111.20" x2="903.90" y2="111.20" stroke="#000" stroke-width="1.7" />
<line x1="894.50" y1="79.10" x2="903.90" y2="79.10" stroke="#000" stroke-width="1.7" />
<text x="889.10" y="84.10" font-size="17.2" text-anchor="end" font-weight="normal" >0</text>
<line x1="899.00" y1="47.00" x2="903.90" y2="47.00" stroke="#000" stroke-width="1.7" />
<line x1="894.50" y1="14.90" x2="903.90" y2="14.90" stroke="#000" stroke-width="1.7" />
<text x="889.10" y="19.90" font-size="17.2" text-anchor="end" font-weight="normal" >10</text>
<rect x="912.0" y="23.199999999999992" width="43.4" height="21.7" fill="#000"/>
<text x="960.80" y="40.90" font-size="19.3" text-anchor="start" font-weight="normal" >galectin-4</text>
<rect transform="translate(1007.71,362.52)" x="0.46" y="64.38" width="4.90" height="49.85" fill="url(#hatch)" stroke="#1a1a1a" stroke-width="1.1"/>
<rect transform="translate(1024.14,362.52)" x="0.46" y="64.38" width="4.90" height="37.25" fill="url(#hatch)" stroke="#1a1a1a" stroke-width="1.1"/>
<rect transform="translate(1040.57,362.52)" x="0.46" y="64.38" width="4.90" height="0.45" fill="url(#hatch)" stroke="#1a1a1a" stroke-width="1.1"/>
<rect transform="translate(1048.79,362.52)" x="0.46" y="64.38" width="4.90" height="28.45" fill="url(#hatch)" stroke="#1a1a1a" stroke-width="1.1"/>
<rect transform="translate(1057.01,362.52)" x="0.46" y="64.38" width="4.90" height="36.35" fill="url(#hatch)" stroke="#1a1a1a" stroke-width="1.1"/>
<rect transform="translate(1065.22,362.52)" x="0.46" y="64.38" width="4.90" height="40.55" fill="url(#hatch)" stroke="#1a1a1a" stroke-width="1.1"/>
<rect transform="translate(1073.44,362.52)" x="0.46" y="64.38" width="4.90" height="27.35" fill="url(#hatch)" stroke="#1a1a1a" stroke-width="1.1"/>
<rect transform="translate(1081.66,362.52)" x="0.46" y="64.38" width="4.90" height="27.35" fill="url(#hatch)" stroke="#1a1a1a" stroke-width="1.1"/>
<rect transform="translate(1089.88,362.52)" x="0.46" y="64.38" width="4.90" height="19.45" fill="url(#hatch)" stroke="#1a1a1a" stroke-width="1.1"/>
<rect transform="translate(1098.09,362.52)" x="0.46" y="64.38" width="4.90" height="19.25" fill="url(#hatch)" stroke="#1a1a1a" stroke-width="1.1"/>
<rect transform="translate(1106.31,362.52)" x="0.46" y="64.38" width="4.90" height="15.15" fill="url(#hatch)" stroke="#1a1a1a" stroke-width="1.1"/>
<rect transform="translate(1114.53,362.52)" x="0.46" y="64.38" width="4.90" height="17.95" fill="url(#hatch)" stroke="#1a1a1a" stroke-width="1.1"/>
<rect transform="translate(1122.74,362.52)" x="0.46" y="64.38" width="4.90" height="15.75" fill="url(#hatch)" stroke="#1a1a1a" stroke-width="1.1"/>
<rect transform="translate(1130.96,362.52)" x="0.46" y="64.38" width="4.90" height="17.15" fill="url(#hatch)" stroke="#1a1a1a" stroke-width="1.1"/>
<rect transform="translate(1139.18,362.52)" x="0.46" y="64.38" width="4.90" height="16.05" fill="url(#hatch)" stroke="#1a1a1a" stroke-width="1.1"/>
<rect transform="translate(1147.39,362.52)" x="0.46" y="64.38" width="4.90" height="23.05" fill="url(#hatch)" stroke="#1a1a1a" stroke-width="1.1"/>
<rect transform="translate(1155.61,362.52)" x="0.46" y="64.38" width="4.90" height="17.95" fill="url(#hatch)" stroke="#1a1a1a" stroke-width="1.1"/>
<rect transform="translate(1163.83,362.52)" x="0.46" y="64.38" width="4.90" height="17.35" fill="url(#hatch)" stroke="#1a1a1a" stroke-width="1.1"/>
<rect transform="translate(1172.05,362.52)" x="0.46" y="64.38" width="4.90" height="14.15" fill="url(#hatch)" stroke="#1a1a1a" stroke-width="1.1"/>
<rect transform="translate(1180.26,362.52)" x="0.46" y="64.38" width="4.90" height="16.05" fill="url(#hatch)" stroke="#1a1a1a" stroke-width="1.1"/>
<rect transform="translate(1188.48,362.52)" x="0.46" y="64.38" width="4.90" height="12.05" fill="url(#hatch)" stroke="#1a1a1a" stroke-width="1.1"/>
<rect transform="translate(1196.70,362.52)" x="0.46" y="64.38" width="4.90" height="11.35" fill="url(#hatch)" stroke="#1a1a1a" stroke-width="1.1"/>
<rect transform="translate(1204.91,362.52)" x="0.46" y="64.38" width="4.90" height="11.95" fill="url(#hatch)" stroke="#1a1a1a" stroke-width="1.1"/>
<rect transform="translate(1213.13,362.52)" x="0.46" y="64.38" width="4.90" height="11.35" fill="url(#hatch)" stroke="#1a1a1a" stroke-width="1.1"/>
<rect transform="translate(1221.35,362.52)" x="0.46" y="64.38" width="4.90" height="12.55" fill="url(#hatch)" stroke="#1a1a1a" stroke-width="1.1"/>
<rect transform="translate(1229.57,362.52)" x="0.46" y="64.38" width="4.90" height="6.85" fill="url(#hatch)" stroke="#1a1a1a" stroke-width="1.1"/>
<rect transform="translate(1237.78,362.52)" x="0.46" y="64.38" width="4.90" height="11.15" fill="url(#hatch)" stroke="#1a1a1a" stroke-width="1.1"/>
<rect transform="translate(1246.00,362.52)" x="0.46" y="64.38" width="4.90" height="9.55" fill="url(#hatch)" stroke="#1a1a1a" stroke-width="1.1"/>
<rect transform="translate(1254.22,362.52)" x="0.46" y="64.38" width="4.90" height="10.65" fill="url(#hatch)" stroke="#1a1a1a" stroke-width="1.1"/>
<rect transform="translate(1262.43,362.52)" x="0.46" y="64.38" width="4.90" height="10.45" fill="url(#hatch)" stroke="#1a1a1a" stroke-width="1.1"/>
<rect transform="translate(1270.65,362.52)" x="0.46" y="64.38" width="4.90" height="7.35" fill="url(#hatch)" stroke="#1a1a1a" stroke-width="1.1"/>
<rect transform="translate(1278.87,362.52)" x="0.46" y="64.38" width="4.90" height="8.45" fill="url(#hatch)" stroke="#1a1a1a" stroke-width="1.1"/>
<rect transform="translate(1287.08,362.52)" x="0.46" y="64.38" width="4.90" height="3.95" fill="url(#hatch)" stroke="#1a1a1a" stroke-width="1.1"/>
<rect transform="translate(1295.30,362.52)" x="0.46" y="64.38" width="4.90" height="9.25" fill="url(#hatch)" stroke="#1a1a1a" stroke-width="1.1"/>
<rect transform="translate(1303.52,362.52)" x="0.46" y="64.38" width="4.90" height="3.25" fill="url(#hatch)" stroke="#1a1a1a" stroke-width="1.1"/>
<rect transform="translate(1311.74,362.52)" x="0.46" y="64.38" width="4.90" height="4.65" fill="url(#hatch)" stroke="#1a1a1a" stroke-width="1.1"/>
<rect transform="translate(1319.95,362.52)" x="0.46" y="64.38" width="4.90" height="1.15" fill="url(#hatch)" stroke="#1a1a1a" stroke-width="1.1"/>
<rect transform="translate(1328.17,362.52)" x="0.46" y="64.38" width="4.90" height="3.95" fill="url(#hatch)" stroke="#1a1a1a" stroke-width="1.1"/>
<rect transform="translate(1336.39,362.52)" x="0.46" y="64.38" width="4.90" height="2.55" fill="url(#hatch)" stroke="#1a1a1a" stroke-width="1.1"/>
<rect transform="translate(1344.60,362.52)" x="0.46" y="64.38" width="4.90" height="4.65" fill="url(#hatch)" stroke="#1a1a1a" stroke-width="1.1"/>
<rect transform="translate(1352.82,362.52)" x="0.46" y="64.38" width="4.90" height="3.05" fill="url(#hatch)" stroke="#1a1a1a" stroke-width="1.1"/>
<rect transform="translate(1361.04,362.52)" x="0.46" y="64.38" width="4.90" height="2.15" fill="url(#hatch)" stroke="#1a1a1a" stroke-width="1.1"/>
<rect transform="translate(1369.25,362.52)" x="0.46" y="64.38" width="4.90" height="1.15" fill="url(#hatch)" stroke="#1a1a1a" stroke-width="1.1"/>
<rect transform="translate(1377.47,362.52)" x="0.46" y="64.38" width="4.90" height="1.85" fill="url(#hatch)" stroke="#1a1a1a" stroke-width="1.1"/>
<rect transform="translate(1385.69,362.52)" x="0.46" y="64.38" width="4.90" height="1.15" fill="url(#hatch)" stroke="#1a1a1a" stroke-width="1.1"/>
<rect transform="translate(1393.90,362.52)" x="0.46" y="63.73" width="4.90" height="0.65" fill="url(#hatch)" stroke="#1a1a1a" stroke-width="1.1"/>
<rect transform="translate(1402.12,362.52)" x="0.46" y="62.43" width="4.90" height="1.95" fill="url(#hatch)" stroke="#1a1a1a" stroke-width="1.1"/>
<rect transform="translate(1410.34,362.52)" x="0.46" y="63.83" width="4.90" height="0.55" fill="url(#hatch)" stroke="#1a1a1a" stroke-width="1.1"/>
<rect transform="translate(1418.56,362.52)" x="0.46" y="62.73" width="4.90" height="1.65" fill="url(#hatch)" stroke="#1a1a1a" stroke-width="1.1"/>
<rect transform="translate(1434.99,362.52)" x="0.46" y="55.63" width="4.90" height="8.75" fill="url(#hatch)" stroke="#1a1a1a" stroke-width="1.1"/>
<rect transform="translate(1443.21,362.52)" x="0.46" y="55.13" width="4.90" height="9.25" fill="url(#hatch)" stroke="#1a1a1a" stroke-width="1.1"/>
<rect transform="translate(1451.42,362.52)" x="0.46" y="18.93" width="4.90" height="45.45" fill="url(#hatch)" stroke="#1a1a1a" stroke-width="1.1"/>
<rect transform="translate(1459.64,362.52)" x="0.46" y="53.43" width="4.90" height="10.95" fill="url(#hatch)" stroke="#1a1a1a" stroke-width="1.1"/>
<rect transform="translate(1467.86,362.52)" x="0.46" y="61.03" width="4.90" height="3.35" fill="url(#hatch)" stroke="#1a1a1a" stroke-width="1.1"/>
<rect transform="translate(1476.08,362.52)" x="0.46" y="48.13" width="4.90" height="16.25" fill="url(#hatch)" stroke="#1a1a1a" stroke-width="1.1"/>
<rect transform="translate(1484.29,362.52)" x="0.46" y="31.83" width="4.90" height="32.55" fill="url(#hatch)" stroke="#1a1a1a" stroke-width="1.1"/>
<rect transform="translate(1492.51,362.52)" x="0.46" y="61.13" width="4.90" height="3.25" fill="url(#hatch)" stroke="#1a1a1a" stroke-width="1.1"/>
<rect transform="translate(1500.73,362.52)" x="0.46" y="44.93" width="4.90" height="19.45" fill="url(#hatch)" stroke="#1a1a1a" stroke-width="1.1"/>
<rect transform="translate(1508.94,362.52)" x="0.46" y="54.33" width="4.90" height="10.05" fill="url(#hatch)" stroke="#1a1a1a" stroke-width="1.1"/>
<rect transform="translate(1517.16,362.52)" x="0.46" y="47.63" width="4.90" height="16.75" fill="url(#hatch)" stroke="#1a1a1a" stroke-width="1.1"/>
<rect transform="translate(1525.38,362.52)" x="0.46" y="48.93" width="4.90" height="15.45" fill="url(#hatch)" stroke="#1a1a1a" stroke-width="1.1"/>
<rect transform="translate(1533.59,362.52)" x="0.46" y="42.93" width="4.90" height="21.45" fill="url(#hatch)" stroke="#1a1a1a" stroke-width="1.1"/>
<rect transform="translate(1541.81,362.52)" x="0.46" y="43.53" width="4.90" height="20.85" fill="url(#hatch)" stroke="#1a1a1a" stroke-width="1.1"/>
<rect transform="translate(1550.03,362.52)" x="0.46" y="25.43" width="4.90" height="38.95" fill="url(#hatch)" stroke="#1a1a1a" stroke-width="1.1"/>
<line x1="903.90" y1="361.85" x2="903.90" y2="652.45" stroke="#000" stroke-width="1.7" />
<line x1="1561.50" y1="361.85" x2="1561.50" y2="652.45" stroke="#000" stroke-width="1.7" />
<line x1="894.50" y1="362.70" x2="1561.50" y2="362.70" stroke="#000" stroke-width="1.7" />
<line x1="899.00" y1="651.60" x2="1561.50" y2="651.60" stroke="#000" stroke-width="1.7" />
<line x1="894.50" y1="426.90" x2="1561.50" y2="426.90" stroke="#000" stroke-width="1.7" />
<line x1="899.00" y1="651.60" x2="903.90" y2="651.60" stroke="#000" stroke-width="1.7" />
<line x1="894.50" y1="619.50" x2="903.90" y2="619.50" stroke="#000" stroke-width="1.7" />
<text x="889.10" y="624.50" font-size="17.2" text-anchor="end" font-weight="normal" >-30</text>
<line x1="899.00" y1="587.40" x2="903.90" y2="587.40" stroke="#000" stroke-width="1.7" />
<line x1="894.50" y1="555.30" x2="903.90" y2="555.30" stroke="#000" stroke-width="1.7" />
<text x="889.10" y="560.30" font-size="17.2" text-anchor="end" font-weight="normal" >-20</text>
<line x1="899.00" y1="523.20" x2="903.90" y2="523.20" stroke="#000" stroke-width="1.7" />
<line x1="894.50" y1="491.10" x2="903.90" y2="491.10" stroke="#000" stroke-width="1.7" />
<text x="889.10" y="496.10" font-size="17.2" text-anchor="end" font-weight="normal" >-10</text>
<line x1="899.00" y1="459.00" x2="903.90" y2="459.00" stroke="#000" stroke-width="1.7" />
<line x1="894.50" y1="426.90" x2="903.90" y2="426.90" stroke="#000" stroke-width="1.7" />
<text x="889.10" y="431.90" font-size="17.2" text-anchor="end" font-weight="normal" >0</text>
<line x1="899.00" y1="394.80" x2="903.90" y2="394.80" stroke="#000" stroke-width="1.7" />
<line x1="894.50" y1="362.70" x2="903.90" y2="362.70" stroke="#000" stroke-width="1.7" />
<text x="889.10" y="367.70" font-size="17.2" text-anchor="end" font-weight="normal" >10</text>
<rect transform="translate(906.555,365.255)" x="5.89" y="6.19" width="42.300000000000004" height="20.7" fill="url(#hatch)" stroke="#1a1a1a" stroke-width="1.3"/>
<text x="960.80" y="387.60" font-size="19.3" text-anchor="start" font-weight="normal" >galectin-4N</text>
<rect x="926.23" y="775.90" width="4.75" height="208.18" fill="#fff" stroke="#111" stroke-width="1.25"/>
<rect x="942.66" y="775.90" width="4.75" height="98.38" fill="#fff" stroke="#111" stroke-width="1.25"/>
<rect x="950.88" y="775.90" width="4.75" height="83.88" fill="#fff" stroke="#111" stroke-width="1.25"/>
<rect x="959.09" y="775.90" width="4.75" height="60.78" fill="#fff" stroke="#111" stroke-width="1.25"/>
<rect x="967.31" y="775.90" width="4.75" height="107.88" fill="#fff" stroke="#111" stroke-width="1.25"/>
<rect x="975.53" y="775.90" width="4.75" height="117.28" fill="#fff" stroke="#111" stroke-width="1.25"/>
<rect x="983.74" y="775.90" width="4.75" height="65.08" fill="#fff" stroke="#111" stroke-width="1.25"/>
<rect x="991.96" y="775.90" width="4.75" height="105.58" fill="#fff" stroke="#111" stroke-width="1.25"/>
<rect x="1000.18" y="775.90" width="4.75" height="43.98" fill="#fff" stroke="#111" stroke-width="1.25"/>
<rect x="1008.40" y="775.90" width="4.75" height="57.68" fill="#fff" stroke="#111" stroke-width="1.25"/>
<rect x="1016.61" y="775.90" width="4.75" height="50.98" fill="#fff" stroke="#111" stroke-width="1.25"/>
<rect x="1024.83" y="775.90" width="4.75" height="86.78" fill="#fff" stroke="#111" stroke-width="1.25"/>
<rect x="1041.26" y="775.90" width="4.75" height="16.98" fill="#fff" stroke="#111" stroke-width="1.25"/>
<rect x="1049.48" y="775.90" width="4.75" height="51.28" fill="#fff" stroke="#111" stroke-width="1.25"/>
<rect x="1057.70" y="775.90" width="4.75" height="77.78" fill="#fff" stroke="#111" stroke-width="1.25"/>
<rect x="1065.91" y="775.90" width="4.75" height="76.48" fill="#fff" stroke="#111" stroke-width="1.25"/>
<rect x="1074.13" y="775.90" width="4.75" height="22.58" fill="#fff" stroke="#111" stroke-width="1.25"/>
<rect x="1082.35" y="775.90" width="4.75" height="16.48" fill="#fff" stroke="#111" stroke-width="1.25"/>
<rect x="1090.57" y="775.90" width="4.75" height="25.78" fill="#fff" stroke="#111" stroke-width="1.25"/>
<rect x="1098.78" y="775.90" width="4.75" height="59.98" fill="#fff" stroke="#111" stroke-width="1.25"/>
<rect x="1107.00" y="775.90" width="4.75" height="8.08" fill="#fff" stroke="#111" stroke-width="1.25"/>
<rect x="1115.22" y="775.90" width="4.75" height="26.38" fill="#fff" stroke="#111" stroke-width="1.25"/>
<rect x="1123.43" y="775.90" width="4.75" height="16.48" fill="#fff" stroke="#111" stroke-width="1.25"/>
<rect x="1131.65" y="775.90" width="4.75" height="43.18" fill="#fff" stroke="#111" stroke-width="1.25"/>
<rect x="1139.87" y="775.90" width="4.75" height="19.98" fill="#fff" stroke="#111" stroke-width="1.25"/>
<rect x="1148.09" y="775.90" width="4.75" height="20.28" fill="#fff" stroke="#111" stroke-width="1.25"/>
<rect x="1156.30" y="775.90" width="4.75" height="11.88" fill="#fff" stroke="#111" stroke-width="1.25"/>
<rect x="1164.52" y="775.90" width="4.75" height="46.28" fill="#fff" stroke="#111" stroke-width="1.25"/>
<rect x="1172.74" y="775.90" width="4.75" height="27.68" fill="#fff" stroke="#111" stroke-width="1.25"/>
<rect x="1180.95" y="775.90" width="4.75" height="26.88" fill="#fff" stroke="#111" stroke-width="1.25"/>
<rect x="1189.17" y="775.90" width="4.75" height="55.88" fill="#fff" stroke="#111" stroke-width="1.25"/>
<rect x="1197.39" y="775.90" width="4.75" height="23.38" fill="#fff" stroke="#111" stroke-width="1.25"/>
<rect x="1205.60" y="775.90" width="4.75" height="22.58" fill="#fff" stroke="#111" stroke-width="1.25"/>
<rect x="1213.82" y="775.90" width="4.75" height="40.88" fill="#fff" stroke="#111" stroke-width="1.25"/>
<rect x="1222.04" y="775.90" width="4.75" height="18.78" fill="#fff" stroke="#111" stroke-width="1.25"/>
<rect x="1230.26" y="775.90" width="4.75" height="4.98" fill="#fff" stroke="#111" stroke-width="1.25"/>
<rect x="1238.47" y="775.90" width="4.75" height="28.08" fill="#fff" stroke="#111" stroke-width="1.25"/>
<rect x="1246.69" y="775.90" width="4.75" height="21.98" fill="#fff" stroke="#111" stroke-width="1.25"/>
<rect x="1254.91" y="775.90" width="4.75" height="6.68" fill="#fff" stroke="#111" stroke-width="1.25"/>
<rect x="1263.12" y="775.90" width="4.75" height="23.08" fill="#fff" stroke="#111" stroke-width="1.25"/>
<rect x="1271.34" y="775.90" width="4.75" height="36.08" fill="#fff" stroke="#111" stroke-width="1.25"/>
<rect x="1279.56" y="775.90" width="4.75" height="19.68" fill="#fff" stroke="#111" stroke-width="1.25"/>
<rect x="1295.99" y="775.90" width="4.75" height="19.68" fill="#fff" stroke="#111" stroke-width="1.25"/>
<rect x="1304.21" y="775.90" width="4.75" height="47.48" fill="#fff" stroke="#111" stroke-width="1.25"/>
<rect x="1312.43" y="775.90" width="4.75" height="13.88" fill="#fff" stroke="#111" stroke-width="1.25"/>
<rect x="1320.64" y="775.90" width="4.75" height="3.98" fill="#fff" stroke="#111" stroke-width="1.25"/>
<rect x="1328.86" y="775.90" width="4.75" height="9.28" fill="#fff" stroke="#111" stroke-width="1.25"/>
<rect x="1337.08" y="775.90" width="4.75" height="32.18" fill="#fff" stroke="#111" stroke-width="1.25"/>
<rect x="1345.29" y="775.90" width="4.75" height="3.58" fill="#fff" stroke="#111" stroke-width="1.25"/>
<rect x="1353.51" y="775.90" width="4.75" height="14.08" fill="#fff" stroke="#111" stroke-width="1.25"/>
<rect x="1361.73" y="775.90" width="4.75" height="35.98" fill="#fff" stroke="#111" stroke-width="1.25"/>
<rect x="1369.94" y="775.90" width="4.75" height="8.48" fill="#fff" stroke="#111" stroke-width="1.25"/>
<rect x="1378.16" y="775.90" width="4.75" height="13.78" fill="#fff" stroke="#111" stroke-width="1.25"/>
<rect x="1386.38" y="775.90" width="4.75" height="24.78" fill="#fff" stroke="#111" stroke-width="1.25"/>
<rect x="1394.60" y="775.90" width="4.75" height="34.08" fill="#fff" stroke="#111" stroke-width="1.25"/>
<rect x="1402.81" y="775.90" width="4.75" height="26.08" fill="#fff" stroke="#111" stroke-width="1.25"/>
<rect x="1411.03" y="775.90" width="4.75" height="10.28" fill="#fff" stroke="#111" stroke-width="1.25"/>
<rect x="1419.25" y="775.90" width="4.75" height="10.28" fill="#fff" stroke="#111" stroke-width="1.25"/>
<rect x="1427.46" y="775.90" width="4.75" height="50.78" fill="#fff" stroke="#111" stroke-width="1.25"/>
<rect x="1435.68" y="775.90" width="4.75" height="24.48" fill="#fff" stroke="#111" stroke-width="1.25"/>
<rect x="1443.90" y="775.90" width="4.75" height="26.08" fill="#fff" stroke="#111" stroke-width="1.25"/>
<rect x="1452.11" y="775.90" width="4.75" height="30.18" fill="#fff" stroke="#111" stroke-width="1.25"/>
<rect x="1460.33" y="775.90" width="4.75" height="19.88" fill="#fff" stroke="#111" stroke-width="1.25"/>
<rect x="1476.77" y="775.90" width="4.75" height="19.48" fill="#fff" stroke="#111" stroke-width="1.25"/>
<rect x="1484.98" y="775.90" width="4.75" height="30.58" fill="#fff" stroke="#111" stroke-width="1.25"/>
<rect x="1493.20" y="760.73" width="4.75" height="15.17" fill="#fff" stroke="#111" stroke-width="1.25"/>
<rect x="1501.42" y="768.33" width="4.75" height="7.57" fill="#fff" stroke="#111" stroke-width="1.25"/>
<rect x="1509.63" y="775.12" width="4.75" height="0.77" fill="#fff" stroke="#111" stroke-width="1.25"/>
<rect x="1517.85" y="769.53" width="4.75" height="6.37" fill="#fff" stroke="#111" stroke-width="1.25"/>
<rect x="1526.07" y="761.43" width="4.75" height="14.47" fill="#fff" stroke="#111" stroke-width="1.25"/>
<rect x="1534.28" y="761.12" width="4.75" height="14.77" fill="#fff" stroke="#111" stroke-width="1.25"/>
<rect x="1542.50" y="762.43" width="4.75" height="13.47" fill="#fff" stroke="#111" stroke-width="1.25"/>
<rect x="1550.72" y="741.33" width="4.75" height="34.57" fill="#fff" stroke="#111" stroke-width="1.25"/>
<line x1="903.90" y1="710.85" x2="903.90" y2="1001.45" stroke="#000" stroke-width="1.7" />
<line x1="1561.50" y1="710.85" x2="1561.50" y2="1001.45" stroke="#000" stroke-width="1.7" />
<line x1="894.50" y1="711.70" x2="1561.50" y2="711.70" stroke="#000" stroke-width="1.7" />
<line x1="899.00" y1="1000.60" x2="1561.50" y2="1000.60" stroke="#000" stroke-width="1.7" />
<line x1="894.50" y1="775.90" x2="1561.50" y2="775.90" stroke="#000" stroke-width="1.7" />
<line x1="899.00" y1="1000.60" x2="903.90" y2="1000.60" stroke="#000" stroke-width="1.7" />
<line x1="894.50" y1="968.50" x2="903.90" y2="968.50" stroke="#000" stroke-width="1.7" />
<text x="889.10" y="973.50" font-size="17.2" text-anchor="end" font-weight="normal" >-30</text>
<line x1="899.00" y1="936.40" x2="903.90" y2="936.40" stroke="#000" stroke-width="1.7" />
<line x1="894.50" y1="904.30" x2="903.90" y2="904.30" stroke="#000" stroke-width="1.7" />
<text x="889.10" y="909.30" font-size="17.2" text-anchor="end" font-weight="normal" >-20</text>
<line x1="899.00" y1="872.20" x2="903.90" y2="872.20" stroke="#000" stroke-width="1.7" />
<line x1="894.50" y1="840.10" x2="903.90" y2="840.10" stroke="#000" stroke-width="1.7" />
<text x="889.10" y="845.10" font-size="17.2" text-anchor="end" font-weight="normal" >-10</text>
<line x1="899.00" y1="808.00" x2="903.90" y2="808.00" stroke="#000" stroke-width="1.7" />
<line x1="894.50" y1="775.90" x2="903.90" y2="775.90" stroke="#000" stroke-width="1.7" />
<text x="889.10" y="780.90" font-size="17.2" text-anchor="end" font-weight="normal" >0</text>
<line x1="899.00" y1="743.80" x2="903.90" y2="743.80" stroke="#000" stroke-width="1.7" />
<line x1="894.50" y1="711.70" x2="903.90" y2="711.70" stroke="#000" stroke-width="1.7" />
<text x="889.10" y="716.70" font-size="17.2" text-anchor="end" font-weight="normal" >10</text>
<rect x="912.4499999999999" y="720.4499999999999" width="42.300000000000004" height="20.7" fill="#fff" stroke="#111" stroke-width="1.3"/>
<text x="960.80" y="737.20" font-size="19.3" text-anchor="start" font-weight="normal" >galectin-4C</text>
<line x1="903.80" y1="1000.60" x2="903.80" y2="1010.00" stroke="#000" stroke-width="1.7" />
<text x="903.80" y="1029.40" font-size="17.2" text-anchor="middle" font-weight="normal" >0</text>
<line x1="944.88" y1="1000.60" x2="944.88" y2="1005.50" stroke="#000" stroke-width="1.7" />
<line x1="985.97" y1="1000.60" x2="985.97" y2="1010.00" stroke="#000" stroke-width="1.7" />
<text x="985.97" y="1029.40" font-size="17.2" text-anchor="middle" font-weight="normal" >10</text>
<line x1="1027.06" y1="1000.60" x2="1027.06" y2="1005.50" stroke="#000" stroke-width="1.7" />
<line x1="1068.14" y1="1000.60" x2="1068.14" y2="1010.00" stroke="#000" stroke-width="1.7" />
<text x="1068.14" y="1029.40" font-size="17.2" text-anchor="middle" font-weight="normal" >20</text>
<line x1="1109.22" y1="1000.60" x2="1109.22" y2="1005.50" stroke="#000" stroke-width="1.7" />
<line x1="1150.31" y1="1000.60" x2="1150.31" y2="1010.00" stroke="#000" stroke-width="1.7" />
<text x="1150.31" y="1029.40" font-size="17.2" text-anchor="middle" font-weight="normal" >30</text>
<line x1="1191.39" y1="1000.60" x2="1191.39" y2="1005.50" stroke="#000" stroke-width="1.7" />
<line x1="1232.48" y1="1000.60" x2="1232.48" y2="1010.00" stroke="#000" stroke-width="1.7" />
<text x="1232.48" y="1029.40" font-size="17.2" text-anchor="middle" font-weight="normal" >40</text>
<line x1="1273.57" y1="1000.60" x2="1273.57" y2="1005.50" stroke="#000" stroke-width="1.7" />
<line x1="1314.65" y1="1000.60" x2="1314.65" y2="1010.00" stroke="#000" stroke-width="1.7" />
<text x="1314.65" y="1029.40" font-size="17.2" text-anchor="middle" font-weight="normal" >50</text>
<line x1="1355.73" y1="1000.60" x2="1355.73" y2="1005.50" stroke="#000" stroke-width="1.7" />
<line x1="1396.82" y1="1000.60" x2="1396.82" y2="1010.00" stroke="#000" stroke-width="1.7" />
<text x="1396.82" y="1029.40" font-size="17.2" text-anchor="middle" font-weight="normal" >60</text>
<line x1="1437.90" y1="1000.60" x2="1437.90" y2="1005.50" stroke="#000" stroke-width="1.7" />
<line x1="1478.99" y1="1000.60" x2="1478.99" y2="1010.00" stroke="#000" stroke-width="1.7" />
<text x="1478.99" y="1029.40" font-size="17.2" text-anchor="middle" font-weight="normal" >70</text>
<line x1="1520.08" y1="1000.60" x2="1520.08" y2="1005.50" stroke="#000" stroke-width="1.7" />
<line x1="1561.16" y1="1000.60" x2="1561.16" y2="1010.00" stroke="#000" stroke-width="1.7" />
<text x="1561.16" y="1029.40" font-size="17.2" text-anchor="middle" font-weight="normal" >80</text>
<text x="1236.20" y="1068.10" font-size="27.6" text-anchor="middle" font-weight="normal" >Compounds</text>
<g transform="translate(844.5,458.4) rotate(-90)"><text x="0" y="0.4" font-size="23.4">Δ</text><text transform="translate(16.6,-0.5) scale(0.93,1)" font-size="27.6">T</text><text x="32.3" y="10.6" font-size="17">m</text><text x="45.1" y="-0.9" font-size="28.2">(°C)</text></g>
</g>
</svg>
</body>
</html>
